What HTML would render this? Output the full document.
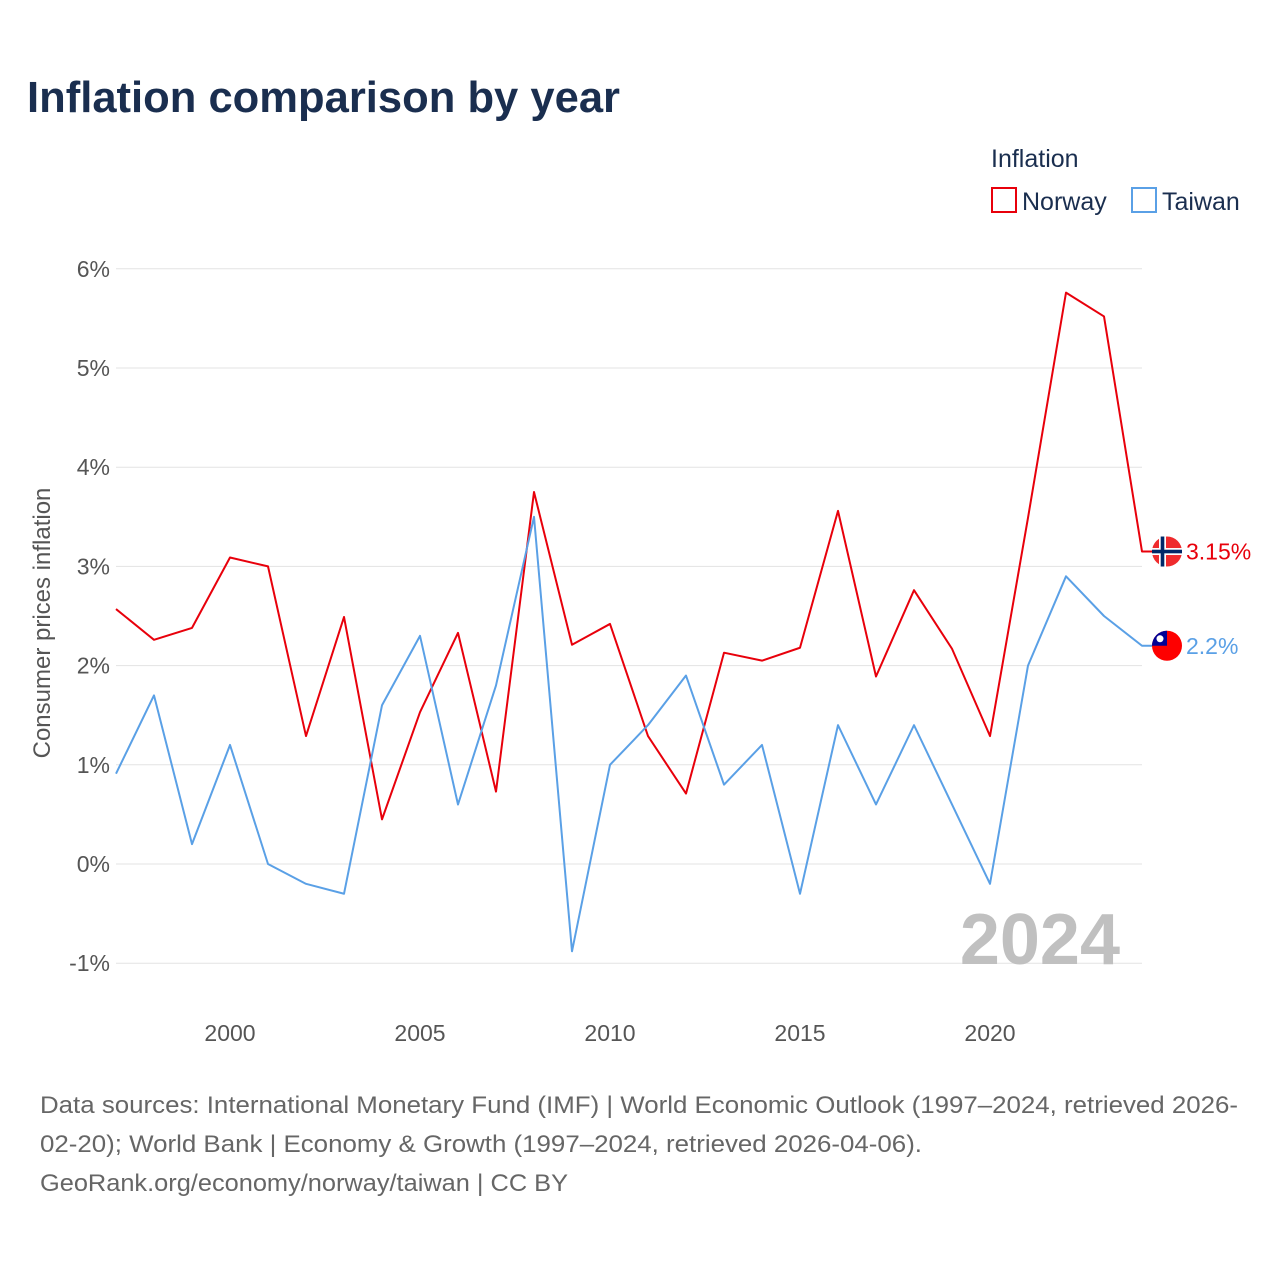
<!DOCTYPE html>
<html><head><meta charset="utf-8"><style>
body{margin:0;background:#fff;font-family:"Liberation Sans",sans-serif;}
svg text{font-family:"Liberation Sans",sans-serif;}
</style></head><body>
<svg id="chart" width="1280" height="1280" viewBox="0 0 1280 1280">
<text x="27" y="112" font-size="44" font-weight="bold" fill="#1a2e4f" textLength="593" lengthAdjust="spacingAndGlyphs">Inflation comparison by year</text>
<text x="991" y="167" font-size="25" fill="#1a2e4f">Inflation</text>
<g><rect x="992" y="188" width="24" height="24" fill="none" stroke="#e8000b" stroke-width="2"/><text x="1022" y="210" font-size="25" fill="#1a2e4f">Norway</text></g>
<g><rect x="1132" y="188" width="24" height="24" fill="none" stroke="#5aa0e6" stroke-width="2"/><text x="1162" y="210" font-size="25" fill="#1a2e4f">Taiwan</text></g>
<g id="grid"></g>
<g id="xticks"></g>
<text transform="translate(50,623) rotate(-90)" text-anchor="middle" font-size="24" fill="#555">Consumer prices inflation</text>
<text x="1120" y="964" text-anchor="end" font-size="72" font-weight="bold" fill="#c0c0c0">2024</text>
<g id="series"></g>
<text x="40" y="1113" font-size="24" fill="#666" textLength="1198" lengthAdjust="spacingAndGlyphs">Data sources: International Monetary Fund (IMF) | World Economic Outlook (1997–2024, retrieved 2026-</text>
<text x="40" y="1152" font-size="24" fill="#666" textLength="882" lengthAdjust="spacingAndGlyphs">02-20); World Bank | Economy &amp; Growth (1997–2024, retrieved 2026-04-06).</text>
<text x="40" y="1191" font-size="24" fill="#666" textLength="528" lengthAdjust="spacingAndGlyphs">GeoRank.org/economy/norway/taiwan | CC BY</text>
</svg>
<script>
const years=[1997,1998,1999,2000,2001,2002,2003,2004,2005,2006,2007,2008,2009,2010,2011,2012,2013,2014,2015,2016,2017,2018,2019,2020,2021,2022,2023,2024];
const norway=[2.57,2.26,2.38,3.09,3.0,1.29,2.49,0.45,1.53,2.33,0.73,3.75,2.21,2.42,1.29,0.71,2.13,2.05,2.18,3.56,1.89,2.76,2.17,1.29,3.49,5.76,5.52,3.15];
const taiwan=[0.91,1.7,0.2,1.2,0.0,-0.2,-0.3,1.6,2.3,0.6,1.8,3.5,-0.88,1.0,1.4,1.9,0.8,1.2,-0.3,1.4,0.6,1.4,0.6,-0.2,2.0,2.9,2.5,2.2];
const yTicks=[-1,0,1,2,3,4,5,6];
const xTicks=[2000,2005,2010,2015,2020];
const NS="http://www.w3.org/2000/svg";
const x=v=>116+(v-1997)*38;
const y=v=>864-v*99.2;
function mk(tag,attrs,parent){const e=document.createElementNS(NS,tag);for(const k in attrs)e.setAttribute(k,attrs[k]);parent.appendChild(e);return e;}
const grid=document.getElementById('grid');
yTicks.forEach(t=>{
 const l=mk('line',{x1:116,x2:1142,y1:y(t),y2:y(t),stroke:'#e3e3e3','stroke-width':1},grid);
 
 
 const tx=mk('text',{x:110,y:y(t)+8,'text-anchor':'end','font-size':23,fill:'#555'},grid);
 tx.textContent=t+'%';
 
 
});
const xt=document.getElementById('xticks');
xTicks.forEach(t=>{
 const tx=mk('text',{x:x(t),y:1041,'text-anchor':'middle','font-size':23,fill:'#555'},xt);
 tx.textContent=t;
 
 
});
const s=document.getElementById('series');
function line(vals,color,name,label){
 let d=vals.map((v,i)=>(i?'L':'M')+x(years[i])+','+y(v)).join(' ');
 d+=' L'+(x(2024)+12)+','+y(vals[vals.length-1]);
 const p=mk('path',{d:d,fill:'none',stroke:color,'stroke-width':2,'stroke-linejoin':'round'},s);
 
 
 const ly=y(vals[vals.length-1]);
 const tx=mk('text',{x:1186,y:ly+8,'font-size':23,fill:color},s);
 tx.textContent=label;
 
 
 return ly;
}
const ny=line(norway,'#e8000b','norway',norway[norway.length-1]+'%');
const ty=line(taiwan,'#5aa0e6','taiwan',taiwan[taiwan.length-1]+'%');
const fn=mk('g',{},s);


mk('circle',{cx:1167,cy:ny,r:15,fill:'#ef2b2d'},fn);
mk('rect',{x:1152,y:ny-3.5,width:30,height:7,fill:'#fff'},fn);
mk('rect',{x:1159,y:ny-15,width:7,height:30,fill:'#fff'},fn);
mk('rect',{x:1152,y:ny-1.8,width:30,height:3.6,fill:'#002868'},fn);
mk('rect',{x:1160.7,y:ny-15,width:3.6,height:30,fill:'#002868'},fn);
const ft=mk('g',{},s);


mk('circle',{cx:1167,cy:ty,r:15,fill:'#fe0000'},ft);
mk('path',{d:`M1167,${ty} L1167,${ty-15} A15,15 0 0 0 1152,${ty} Z`,fill:'#000095'},ft);
mk('circle',{cx:1160,cy:ty-7,r:3.5,fill:'#fff'},ft);
</script>
</body></html>
